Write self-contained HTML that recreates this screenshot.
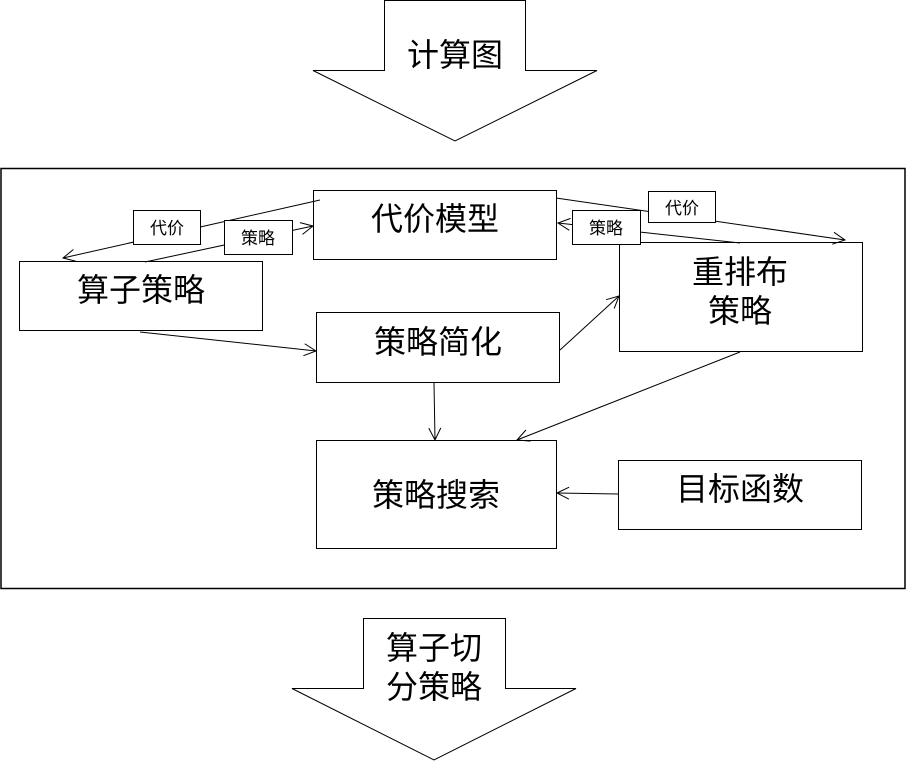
<!DOCTYPE html>
<html><head><meta charset="utf-8"><style>
html,body{margin:0;padding:0;background:#fff;}
svg{display:block;}
text{font-family:"Liberation Sans","Noto Sans CJK SC",sans-serif;fill:#000;}
</style></head><body>
<svg width="906" height="761" viewBox="0 0 906 761" xmlns="http://www.w3.org/2000/svg">
<defs>
<marker id="a" markerWidth="14" markerHeight="14" refX="13" refY="7" orient="auto" markerUnits="userSpaceOnUse">
<path d="M1,1 L13,7 L1,13" fill="none" stroke="#000" stroke-width="1"/>
</marker>
</defs>
<!-- top arrow -->
<path d="M384.5,0.5 L525.5,0.5 L525.5,70.5 L597,70.5 L455,141 L313,70.5 L384.5,70.5 Z" fill="#fff" stroke="#000" stroke-width="1"/>
<text x="455" y="66" font-size="32" text-anchor="middle">计算图</text>
<!-- frame -->
<rect x="1" y="168.5" width="904" height="420" fill="none" stroke="#000" stroke-width="1.5"/>
<!-- boxes -->
<g fill="#fff" stroke="#000" stroke-width="1">
<rect x="313.5" y="190.5" width="243" height="69"/>
<rect x="19.5" y="261.5" width="243" height="69"/>
<rect x="316.5" y="312.5" width="243" height="70"/>
<rect x="619.5" y="242.5" width="243" height="109"/>
<rect x="316.5" y="440.5" width="240" height="108"/>
<rect x="618.5" y="460.5" width="243" height="69"/>
</g>
<!-- connectors -->
<g stroke="#000" stroke-width="1" fill="none" marker-end="url(#a)">
<line x1="320" y1="200" x2="63" y2="258"/>
<line x1="145" y1="262" x2="313" y2="226"/>
<line x1="140" y1="332" x2="316" y2="351"/>
<line x1="556" y1="198" x2="845" y2="240"/>
<line x1="740" y1="243" x2="558" y2="223"/>
<line x1="560" y1="350" x2="619" y2="296"/>
<line x1="434" y1="383" x2="435" y2="440"/>
<line x1="740" y1="352" x2="517" y2="440"/>
<line x1="618" y1="494" x2="557" y2="493"/>
</g>
<!-- small labels -->
<g fill="#fff" stroke="#000" stroke-width="1">
<rect x="133.5" y="210.5" width="67" height="34"/>
<rect x="224.5" y="220.5" width="68" height="34"/>
<rect x="572.5" y="210.5" width="68" height="34"/>
<rect x="648.5" y="191.5" width="67" height="31"/>
</g>
<g font-size="17" text-anchor="middle">
<text x="167" y="234">代价</text>
<text x="258" y="244">策略</text>
<text x="606" y="234">策略</text>
<text x="682" y="214">代价</text>
</g>
<!-- big labels -->
<g font-size="32" text-anchor="middle">
<text x="435" y="230">代价模型</text>
<text x="141" y="301">算子策略</text>
<text x="438" y="353">策略简化</text>
<text x="740" y="283">重排布</text>
<text x="740" y="322">策略</text>
<text x="436" y="506">策略搜索</text>
<text x="740" y="500">目标函数</text>
</g>
<!-- bottom arrow -->
<path d="M363.5,618.5 L505.5,618.5 L505.5,688.5 L576,688.5 L434,760 L292,688.5 L363.5,688.5 Z" fill="#fff" stroke="#000" stroke-width="1"/>
<text x="434" y="659" font-size="32" text-anchor="middle">算子切</text>
<text x="434" y="698" font-size="32" text-anchor="middle">分策略</text>
</svg>
</body></html>
